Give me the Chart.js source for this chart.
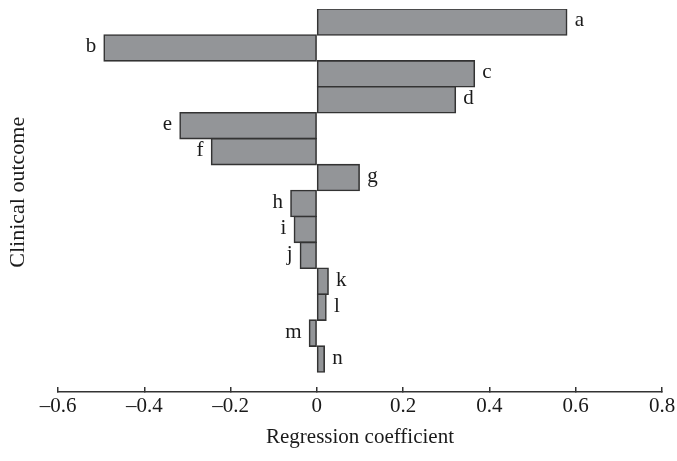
<!DOCTYPE html>
<html>
<head>
<meta charset="utf-8">
<script src="https://cdn.jsdelivr.net/npm/chart.js@4"></script>
<style>
  html, body { margin: 0; padding: 0; background: #fff; }
  #wrap { width: 677px; height: 461px; }
</style>
</head>
<body>
<div id="wrap"><canvas id="coef-chart" width="677" height="461"></canvas></div>
<script>
// outcomes, top to bottom
const outcomes = ['a', 'b', 'c', 'd', 'e', 'f', 'g', 'h', 'i', 'j', 'k', 'l', 'm', 'n'];
const coefficients = [0.579, -0.493, 0.365, 0.321, -0.317, -0.244, 0.098, -0.060, -0.052, -0.038, 0.026, 0.021, -0.017, 0.017];
const xTicks = [-0.6, -0.4, -0.2, 0, 0.2, 0.4, 0.6, 0.8];

const serif = "'Liberation Serif', 'DejaVu Serif', serif";

// letters next to the end of each bar
const barLabels = {
    id: 'barLabels',
    afterDatasetsDraw(chart) {
        const ctx = chart.ctx;
        const meta = chart.getDatasetMeta(0);
        ctx.save();
        ctx.font = '21px ' + serif;
        ctx.fillStyle = '#1a1a1a';
        ctx.textBaseline = 'middle';
        meta.data.forEach((bar, i) => {
            const v = coefficients[i];
            if (v >= 0) {
                ctx.textAlign = 'left';
                ctx.fillText(outcomes[i], bar.x + 8, bar.y - 1);
            } else {
                ctx.textAlign = 'right';
                ctx.fillText(outcomes[i], bar.x - 8, bar.y - 1);
            }
        });
        ctx.restore();
    }
};

const ctx = document.getElementById('coef-chart').getContext('2d');
const chart = new Chart(ctx, {
    type: 'bar',
    data: {
        datasets: [{
            data: coefficients.map((v, i) => ({ x: v, y: i })),
            backgroundColor: '#939598',
            borderColor: '#333333',
            borderWidth: 1.6,
            inflateAmount: 0.8, // centres the outline on the bar edge
            borderSkipped: false,
            categoryPercentage: 1,
            barPercentage: 1
        }]
    },
    options: {
        indexAxis: 'y',
        responsive: false,
        animation: false,
        layout: { padding: { top: 9, right: 15, bottom: 0, left: 0 } },
        plugins: {
            legend: { display: false },
            tooltip: { enabled: false }
        },
        scales: {
            x: {
                type: 'linear',
                min: -0.6,
                max: 0.8,
                afterBuildTicks(scale) {
                    scale.ticks = xTicks.map(v => ({ value: v }));
                },
                afterFit(scale) {
                    scale.height = 69;
                    scale.paddingLeft = 0;
                    scale.paddingRight = 0;
                },
                grid: {
                    drawOnChartArea: false,
                    tickLength: -5,
                    color: '#333',
                    lineWidth: 1.5
                },
                border: { color: '#333', width: 1.5 },
                ticks: {
                    padding: 7,
                    color: '#1a1a1a',
                    font: { family: serif, size: 21 },
                    callback: v => v === 0 ? '0' : v.toFixed(1).replace('-', '\u2013')
                },
                title: {
                    display: true,
                    text: 'Regression coefficient',
                    color: '#1a1a1a',
                    font: { family: serif, size: 21 },
                    padding: { top: 0, bottom: 11 }
                }
            },
            y: {
                type: 'linear',
                reverse: true,
                offset: false,
                min: -0.5,
                max: 14.27,
                afterFit(scale) {
                    scale.width = 58;
                    scale.paddingTop = 0;
                    scale.paddingBottom = 0;
                },
                grid: { display: false, offset: false },
                border: { display: false },
                ticks: { display: false },
                title: {
                    display: true,
                    // leading spaces lift the rotated, centred text a little
                    text: '   Clinical outcome',
                    color: '#1a1a1a',
                    font: { family: serif, size: 22 },
                    padding: { top: 5, bottom: 0 }
                }
            }
        }
    },
    plugins: [barLabels]
});
</script>
</body>
</html>
